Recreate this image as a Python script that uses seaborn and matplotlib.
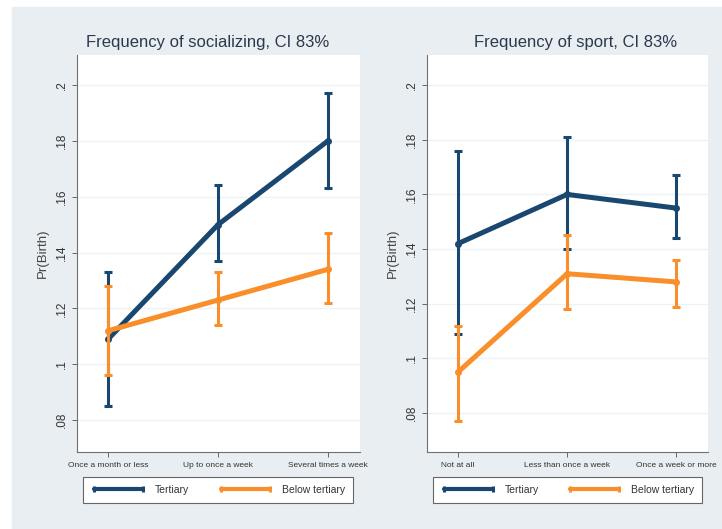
import numpy as np
import pandas as pd
import matplotlib
matplotlib.use("Agg")
import matplotlib.pyplot as plt
import seaborn as sns
from matplotlib.lines import Line2D
from matplotlib.patches import Rectangle

# --- data (predicted Pr(Birth) with 83% CI) ---
groups = ["Tertiary", "Below tertiary"]

soc_levels = ["Once a month or less", "Up to once a week", "Several times a week"]
soc_tert = [0.109, 0.150, 0.180]
soc_tert_lo = [0.085, 0.137, 0.163]
soc_tert_hi = [0.133, 0.164, 0.197]
soc_below = [0.112, 0.123, 0.134]
soc_below_lo = [0.096, 0.114, 0.122]
soc_below_hi = [0.128, 0.133, 0.147]

sport_levels = ["Not at all", "Less than once a week", "Once a week or more"]
sport_tert = [0.142, 0.160, 0.155]
sport_tert_lo = [0.109, 0.140, 0.144]
sport_tert_hi = [0.176, 0.181, 0.167]
sport_below = [0.095, 0.131, 0.128]
sport_below_lo = [0.077, 0.118, 0.119]
sport_below_hi = [0.112, 0.145, 0.136]

yticks = [0.08, 0.10, 0.12, 0.14, 0.16, 0.18, 0.20]
ytick_labels = [".08", ".1", ".12", ".14", ".16", ".18", ".2"]

colors = {"Tertiary": "#1a476f", "Below tertiary": "#f98e2b"}
bg = "#e8eef1"

sns.set_style("white")
plt.rcParams["font.family"] = ["Liberation Sans", "DejaVu Sans"]


def make_frame(levels, tert, tert_lo, tert_hi, below, below_lo, below_hi):
    rows = []
    for g, m, lo, hi in [("Tertiary", tert, tert_lo, tert_hi),
                         ("Below tertiary", below, below_lo, below_hi)]:
        for i, lev in enumerate(levels):
            rows.append({"group": g, "level": lev, "pos": i,
                         "pr": m[i], "lo": lo[i], "hi": hi[i]})
    return pd.DataFrame(rows)


def draw_panel(ax, df, levels, title, ylim, title_x):
    ax.set_facecolor("white")
    for k, g in enumerate(groups):
        sub = df[df["group"] == g]
        col = colors[g]
        ax.errorbar(sub["pos"], sub["pr"],
                    yerr=[sub["pr"] - sub["lo"], sub["hi"] - sub["pr"]],
                    fmt="none", ecolor=col, elinewidth=2.2, capsize=2.6,
                    capthick=2.2, zorder=2 + 2 * k)
        sns.lineplot(data=sub, x="pos", y="pr", color=col, lw=3.6,
                     marker="o", markersize=5, markeredgewidth=0,
                     ax=ax, legend=False, zorder=2.5 + 2 * k)
    ax.set_xlim(-0.283, 2.29)
    ax.set_ylim(*ylim)
    ax.set_xticks(range(len(levels)))
    ax.set_xticklabels(levels, fontsize=6, color="#333333")
    ax.set_yticks(yticks)
    ax.set_yticklabels(ytick_labels, fontsize=8.5, color="#333333",
                       rotation=90, va="center")
    ax.tick_params(axis="both", length=3.5, width=0.7, color="#666666",
                   direction="out", left=True, bottom=True)
    ax.tick_params(axis="y", pad=3)
    ax.tick_params(axis="x", pad=4)
    ax.grid(axis="y", color="#edf3f5", lw=1.0)
    ax.grid(axis="x", visible=False)
    for s in ["top", "right"]:
        ax.spines[s].set_visible(False)
    for s in ["left", "bottom"]:
        ax.spines[s].set_color("#707070")
        ax.spines[s].set_linewidth(0.8)
    ax.set_xlabel("")
    ax.set_ylabel("Pr(Birth)", fontsize=9.5, color="#444444")
    ax.yaxis.set_label_coords(-0.10, 0.5)
    fig.text(title_x, 1 - 43 / 529, title, fontsize=12, color="#2a3a4c",
             ha="center", va="center")


soc_df = make_frame(soc_levels, soc_tert, soc_tert_lo, soc_tert_hi,
                    soc_below, soc_below_lo, soc_below_hi)
sport_df = make_frame(sport_levels, sport_tert, sport_tert_lo, sport_tert_hi,
                      sport_below, sport_below_lo, sport_below_hi)

W, H = 722, 529
fig = plt.figure(figsize=(W / 100, H / 100), dpi=100)
fig.patch.set_facecolor("white")
fig.patches.append(Rectangle((12 / W, 0), 1 - 12 / W, 1 - 7 / H,
                             transform=fig.transFigure, color=bg, zorder=-10))

ax1 = fig.add_axes([77 / W, 1 - 452 / H, (360 - 77) / W, (452 - 55) / H])
ax2 = fig.add_axes([427 / W, 1 - 452 / H, (708 - 427) / W, (452 - 55) / H])

draw_panel(ax1, soc_df, soc_levels, "Frequency of socializing, CI 83%",
           (0.0686, 0.2107), 208 / W)
draw_panel(ax2, sport_df, sport_levels, "Frequency of sport, CI 83%",
           (0.0658, 0.2110), 576 / W)

handles = [Line2D([], [], color=colors[g], lw=3, marker="|", markersize=5,
                  markeredgewidth=2.2) for g in groups]
for x0, x1 in [(84, 352), (434, 701)]:
    leg = fig.legend(handles, groups, ncol=2, loc="center",
                     bbox_to_anchor=((x0 + x1) / 2 / W, 1 - 490 / H),
                     bbox_transform=fig.transFigure,
                     fontsize=7.5, numpoints=2, handlelength=5.3,
                     handletextpad=0.87, columnspacing=2.7, borderaxespad=0,
                     frameon=True, fancybox=False, borderpad=0.75)
    leg.get_frame().set_edgecolor("#666666")
    leg.get_frame().set_facecolor("white")
    leg.get_frame().set_alpha(1)
    leg.get_frame().set_linewidth(0.8)
    for t in leg.get_texts():
        t.set_color("#333333")

fig.savefig("out.png", dpi=100, facecolor=fig.get_facecolor())
